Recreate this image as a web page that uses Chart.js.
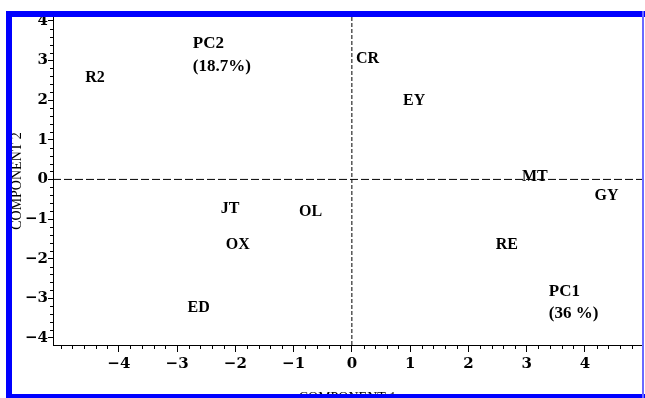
<!DOCTYPE html>
<html><head><meta charset="utf-8">
<script src="https://cdn.jsdelivr.net/npm/chart.js@4.4.0/dist/chart.umd.min.js"></script>
<style>html,body{margin:0;padding:0;background:#fff;overflow:hidden}#wrap{position:relative;width:645px;height:398px}</style>
</head><body><div id="wrap"><canvas id="c" width="645" height="398"></canvas></div>
<script>
const labels = ['R2','CR','EY','MT','GY','JT','OL','OX','RE','ED'];
const comp1 = [-4.41, 0.27, 1.07, 3.14, 4.37, -2.09, -0.71, -1.96, 2.66, -2.63];
const comp2 = [2.56, 3.04, 1.98, 0.07, -0.41, -0.74, -0.81, -1.65, -1.64, -3.25];
const noteLines = ['PC2', '(18.7%)', 'PC1', '(36 %)'];
const noteX = [-2.73, -2.73, 3.38, 3.38];
const noteY = [3.42, 2.84, -2.82, -3.38];
const xTicks = [-4, -3, -2, -1, 0, 1, 2, 3, 4];
const yTicks = [-4, -3, -2, -1, 0, 1, 2, 3, 4];
const xRange = [-5.13, 4.98];
const yRange = [-4.18, 4.10];

const fmt = v => v < 0 ? '\u2212' + Math.abs(v) : String(v);
const tickFont = {family: 'DejaVu Serif', weight: 'bold', size: 15};

const deco = {
  id: 'deco',
  afterDatasetsDraw(chart) {
    const ctx = chart.ctx, xs = chart.scales.x, ys = chart.scales.y;
    ctx.save();
    ctx.strokeStyle = '#000'; ctx.lineWidth = 1;
    for (let k = -30; k <= 30; k++) {
      const v = k / 5;
      if (v < xRange[0] || v > xRange[1]) continue;
      if (k % 5 === 0 && xTicks.includes(v)) continue;
      const px = Math.round(xs.getPixelForValue(v)) + 0.5;
      ctx.beginPath(); ctx.moveTo(px, ys.bottom); ctx.lineTo(px, ys.bottom + 4); ctx.stroke();
    }
    for (let k = -30; k <= 30; k++) {
      const v = k / 5;
      if (v < yRange[0] || v > yRange[1]) continue;
      if (k % 5 === 0 && yTicks.includes(v)) continue;
      const py = Math.round(ys.getPixelForValue(v)) + 0.5;
      ctx.beginPath(); ctx.moveTo(xs.left, py); ctx.lineTo(xs.left - 3, py); ctx.stroke();
    }
    ctx.fillStyle = '#000';
    ctx.textBaseline = 'middle';
    ctx.textAlign = 'center';
    ctx.font = 'bold 16px "Liberation Serif"';
    chart.getDatasetMeta(0).data.forEach((pt, i) => ctx.fillText(labels[i], pt.x, pt.y));
    ctx.textAlign = 'left';
    ctx.font = 'bold 17px "Liberation Serif"';
    chart.getDatasetMeta(1).data.forEach((pt, i) => ctx.fillText(noteLines[i], pt.x, pt.y));
    ctx.restore();
  },
  afterDraw(chart) {
    const ctx = chart.ctx;
    ctx.save();
    ctx.fillStyle = '#0000ff';
    ctx.fillRect(6, 11, 639, 6);
    ctx.fillRect(6, 11, 6, 387);
    ctx.fillRect(6, 394, 639, 4);
    ctx.fillStyle = '#6a6aff';
    ctx.fillRect(642, 11, 2, 387);
    ctx.restore();
  }
};

new Chart(document.getElementById('c'), {
  type: 'scatter',
  data: {
    datasets: [
      {data: comp1.map((x, i) => ({x, y: comp2[i]})), pointRadius: 0, showLine: false},
      {data: noteX.map((x, i) => ({x, y: noteY[i]})), pointRadius: 0, showLine: false},
      {data: [{x: xRange[0], y: 0}, {x: xRange[1], y: 0}], showLine: true, borderColor: '#000', borderWidth: 1, borderDash: [8, 3], pointRadius: 0},
      {data: [{x: 0, y: yRange[0]}, {x: 0, y: yRange[1]}], showLine: true, borderColor: '#000', borderWidth: 1, borderDash: [4, 2], pointRadius: 0}
    ]
  },
  options: {
    responsive: false, animation: false, events: [],
    layout: {padding: {top: 17, right: 3, left: 0, bottom: 0}},
    plugins: {legend: {display: false}, tooltip: {enabled: false}},
    scales: {
      x: {
        type: 'linear', min: xRange[0], max: xRange[1],
        afterBuildTicks: s => { s.ticks = xTicks.map(v => ({value: v})); },
        afterFit: s => { s.height = 53; },
        ticks: {callback: v => fmt(v), font: tickFont, color: '#000', padding: 3, maxRotation: 0, autoSkip: false},
        grid: {display: true, drawOnChartArea: false, drawTicks: true, tickLength: 7, color: '#000', lineWidth: 1},
        border: {display: true, color: '#000', width: 1},
        title: {display: true, text: 'COMPONENT 1', color: '#000', font: {family: 'Liberation Serif', size: 14, lineHeight: 0.2}, padding: {top: 0, bottom: -1.5}}
      },
      y: {
        type: 'linear', min: yRange[0], max: yRange[1],
        afterBuildTicks: s => { s.ticks = yTicks.map(v => ({value: v})); },
        afterFit: s => { s.width = 53; },
        ticks: {callback: v => fmt(v), font: tickFont, color: '#000', padding: 0, autoSkip: false},
        grid: {display: true, drawOnChartArea: false, drawTicks: true, tickLength: 5, color: '#000', lineWidth: 1},
        border: {display: true, color: '#000', width: 1},
        title: {display: true, text: 'COMPONENT 2', color: '#000', font: {family: 'Liberation Serif', size: 14}, padding: {top: 9, bottom: 0}}
      }
    }
  },
  plugins: [deco]
});
</script></body></html>
